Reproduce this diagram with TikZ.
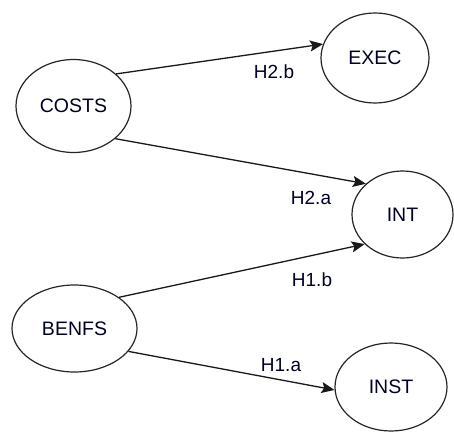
\documentclass[tikz,border=0pt]{standalone}
\usepackage{fontspec}
\setmainfont{Liberation Sans}
\usetikzlibrary{shapes.geometric,arrows.meta}
\begin{document}
\begin{tikzpicture}[x=1pt,y=-1pt,
  var/.style={ellipse,draw=black!85,line width=1.2pt,inner sep=0pt,font=\fontsize{19.5}{22}\selectfont,text=black!85!blue},
  rel/.style={draw=black!90,line width=1.3pt,-{Stealth[length=13pt,width=11pt,inset=2.5pt]}},
  lab/.style={font=\fontsize{19}{22}\selectfont,text=black!85!blue,inner sep=0pt}]
\useasboundingbox (0,0) rectangle (454,433);
\fill[white] (0,0) rectangle (454,433);
\node[var,minimum width=115pt,minimum height=93pt] (costs) at (73.5,106) {COSTS};
\node[var,minimum width=108pt,minimum height=90pt] (exec) at (375,58) {EXEC};
\node[var,minimum width=101pt,minimum height=87pt] (int) at (402.5,214.5) {INT};
\node[var,minimum width=125pt,minimum height=87pt] (benfs) at (74.5,328.5) {BENFS};
\node[var,minimum width=112pt,minimum height=88pt] (inst) at (391,387) {INST};
\draw[rel] (costs.37) -- (exec.165);
\draw[rel] (costs.-38.5) -- (int.140);
\draw[rel] (benfs.35.5) -- (int.218);
\draw[rel] (benfs.-23.8) -- (inst.183);
\node[lab] (l1) at (274,72) {H2.b};
\node[lab] (l2) at (311,198) {H2.a};
\node[lab] (l3) at (312,280) {H1.b};
\node[lab] (l4) at (281,365) {H1.a};
\end{tikzpicture}
\end{document}
